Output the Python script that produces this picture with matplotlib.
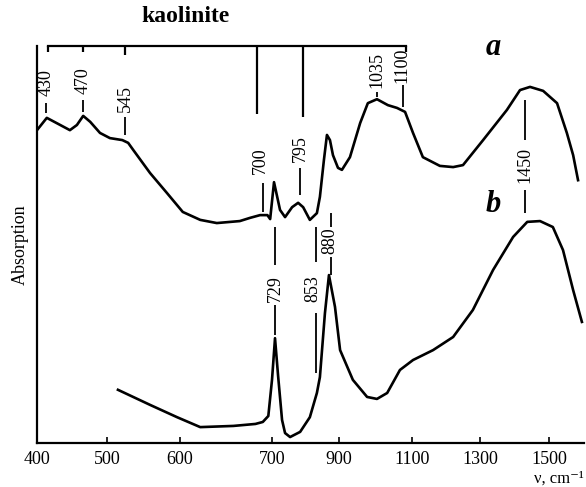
import numpy as np
import matplotlib
matplotlib.use("Agg")
import matplotlib.pyplot as plt

# ===================== 数据 =====================
# 横轴刻度（原图刻度间距不均匀）
tick_vals = [400, 500, 600, 700, 900, 1100, 1300, 1500]
tick_labels = ["400", "500", "600", "700", "900", "1100", "1300", "1500"]
# 刻度在轴上的相对位置（像素），用于分段线性刻度
scale_wn = [400, 500, 600, 700, 900, 1100, 1300, 1500, 1600]
scale_pos = [0, 70, 143, 235, 302, 375, 443, 512, 547]

# 曲线 a
a_wn = [400, 414, 430, 447, 457, 466, 476, 490, 504, 521, 529, 536, 559, 582,
        603, 622, 640, 665, 676, 687, 695, 698, 706, 724, 739, 760, 778, 793,
        813, 834, 843, 855, 864, 873, 882, 897, 908, 930, 958, 979, 1004, 1034,
        1059, 1081, 1103, 1132, 1182, 1221, 1250, 1309, 1378, 1416, 1445, 1483,
        1523, 1551, 1569, 1583]
a_abs = [78.8, 81.9, 80.4, 78.8, 80.1, 82.4, 80.9, 78.1, 76.8, 76.3, 75.6, 73.8,
         68.0, 63.0, 58.2, 56.2, 55.4, 55.9, 56.7, 57.4, 57.4, 56.4, 65.7, 58.7,
         56.9, 59.4, 60.5, 59.4, 56.2, 57.9, 62.0, 71.3, 77.6, 76.3, 72.5, 69.3,
         68.8, 72.0, 80.6, 85.6, 86.6, 85.1, 84.4, 83.4, 78.1, 72.0, 69.8, 69.5,
         70.0, 76.3, 83.9, 88.9, 89.7, 88.7, 85.6, 78.1, 72.5, 66.2]

# 曲线 b
b_wn = [515, 559, 596, 622, 658, 682, 690, 696, 700, 709, 718, 730, 739, 754,
        784, 813, 834, 843, 858, 870, 888, 903, 938, 977, 1004, 1032, 1067, 1103,
        1162, 1221, 1279, 1338, 1396, 1437, 1474, 1511, 1540, 1569, 1594]
b_abs = [13.4, 9.6, 6.5, 4.0, 4.3, 4.8, 5.3, 6.8, 15.9, 26.4, 17.1, 5.8, 2.5, 1.5,
         2.8, 6.5, 12.6, 16.6, 32.7, 42.3, 34.3, 23.4, 15.9, 11.6, 11.1, 12.6,
         18.4, 20.9, 23.4, 26.7, 33.5, 43.6, 51.9, 55.7, 55.9, 54.4, 48.6, 38.5,
         30.5]

# 高岭石特征线
kao_x = [415, 466, 525, 684, 792, 1084]
kao_bottom = [98.5, 98.5, 97.7, 82.9, 82.1, 98.5]

# 峰标注：文字、x、文字中心 y、引线段
peak_text = ["430", "470", "545", "700", "795", "1035", "1100", "1450",
             "729", "853", "880"]
peak_x = [413, 466, 525, 687, 784, 1004, 1073, 1430, 709, 822, 873]
peak_y = [90.7, 91.4, 86.9, 71.0, 74.1, 94.0, 95.2, 70.0, 39.0, 39.0, 50.9]
lead_x = [413, 466, 525, 690, 784, 1004, 1076, 1430, 1430, 709, 709, 831, 831, 876, 876]
lead_y0 = [83.1, 83.4, 77.6, 58.2, 62.5, 87.2, 84.6, 76.3, 57.9, 44.8, 27.2, 45.6, 17.6, 42.3, 54.4]
lead_y1 = [85.6, 86.4, 82.1, 65.5, 69.3, 88.4, 90.2, 86.4, 63.7, 54.4, 34.8, 54.4, 32.7, 46.9, 57.9]

# ===================== 字体 =====================
serif = ["Liberation Serif", "DejaVu Serif"]
plt.rcParams["font.family"] = serif

# ===================== 绘图 =====================
fig = plt.figure(figsize=(5.86, 4.87), dpi=100)
ax = fig.add_axes([37 / 586, 44 / 487, 547 / 586, 397 / 487])


def fwd(x):
    return np.interp(x, scale_wn, scale_pos)


def inv(x):
    return np.interp(x, scale_pos, scale_wn)


ax.set_xscale("function", functions=(fwd, inv))
ax.set_xlim(400, 1600)
ax.set_ylim(0, 100)

lw = 1.9
ax.plot(a_wn, a_abs, color="black", lw=lw, solid_joinstyle="round")
ax.plot(b_wn, b_abs, color="black", lw=lw, solid_joinstyle="round")

# 高岭石标记框
ax.plot([kao_x[0], kao_x[-1]], [100, 100], color="black", lw=1.6, clip_on=False)
ax.vlines(kao_x, kao_bottom, 100, color="black", lw=1.6, clip_on=False)

# 峰标注
for t, x, y in zip(peak_text, peak_x, peak_y):
    ax.text(x, y, t, rotation=90, ha="center", va="center", fontsize=13)
ax.vlines(lead_x, lead_y0, lead_y1, color="black", lw=1.3)

ax.text(1338, 99.5, "a", fontsize=22, fontweight="bold", fontstyle="italic",
        ha="center", va="center")
ax.text(1338, 60.0, "b", fontsize=22, fontweight="bold", fontstyle="italic",
        ha="center", va="center")

# 坐标轴样式
for s in ["top", "right"]:
    ax.spines[s].set_visible(False)
ax.spines["left"].set_linewidth(1.6)
ax.spines["bottom"].set_linewidth(1.6)
ax.set_xticks(tick_vals)
ax.set_xticklabels(tick_labels)
ax.tick_params(axis="x", direction="in", length=4, width=1.2, labelsize=13, pad=6)
ax.set_yticks([])
ax.set_ylabel("Absorption", fontsize=13, labelpad=6)

fig.text(185 / 586, 1 - 17 / 487, "kaolinite", fontsize=17, fontweight="bold",
         ha="center", va="center")
fig.text(584 / 586, 1 - 479 / 487, "ν, cm⁻¹", fontsize=12, ha="right", va="center")

fig.savefig("out.png", dpi=100)
